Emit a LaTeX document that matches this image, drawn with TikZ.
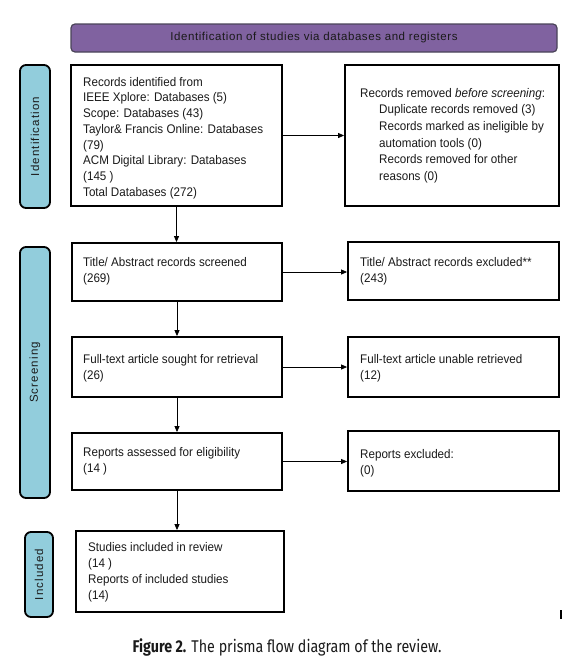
\documentclass[tikz,border=0pt]{standalone}
\usepackage{fontspec}
\setmainfont{Liberation Sans}[FakeStretch=0.93]
\newfontfamily\sidefont{Liberation Sans}[LetterSpace=10]
\newfontfamily\banfont{Liberation Sans}[LetterSpace=5]
\newfontfamily\capfont{Fira Sans}[FakeStretch=0.84]
\usetikzlibrary{arrows.meta,fit}
\definecolor{banfill}{HTML}{8062A0}
\definecolor{banline}{HTML}{4A4458}
\definecolor{sidefill}{HTML}{92CDDC}
\definecolor{txtcol}{HTML}{1A1A1A}
\begin{document}
\begin{tikzpicture}[x=1pt,y=-1pt,
  box/.style={draw=black, line width=1.8pt, inner sep=0pt, fill=white},
  side/.style={draw=black, line width=1.8pt, inner sep=0pt, fill=sidefill, rounded corners=6pt},
  banner/.style={draw=banline, line width=1.2pt, inner sep=0pt, fill=banfill, rounded corners=4pt},
  sidetxt/.style={rotate=90, font=\sidefont\fontsize{11.5}{13}\selectfont, text=txtcol, inner sep=0pt},
  txt/.style={anchor=north west, align=left, inner sep=0pt, text=txtcol, font=\fontsize{12.5}{16}\selectfont},
  arr/.style={-{Triangle[length=6pt,width=5pt]}, line width=0.8pt}]
\useasboundingbox (0,0) rectangle (571,664);

% banner
\node[banner, fit={(71,24) (557,52)}] (ban) {};
\node[font=\banfont\fontsize{11.5}{13}\selectfont, text=txtcol, inner sep=0pt] (bant) at (ban.center) {Identification of studies via databases and registers};

% side labels
\node[side, fit={(20,65) (50,208)}] (sid) {};
\node[sidetxt] (sidt) at (sid.center) {Identification};
\node[side, fit={(20,247) (50,498)}] (sscr) {};
\node[sidetxt] (sscrt) at (sscr.center) {Screening};
\node[side, fit={(25,532) (53,617)}] (sinc) {};
\node[sidetxt] (sinct) at (sinc.center) {Included};

% boxes
\node[box, fit={(71,65) (282,206)}] (b1) {};
\node[box, fit={(345,65) (559,206)}] (b2) {};
\node[box, fit={(72,243) (282,301)}] (b3) {};
\node[box, fit={(348,242) (559,300)}] (b4) {};
\node[box, fit={(72,337) (282,397)}] (b5) {};
\node[box, fit={(348,337) (559,397)}] (b6) {};
\node[box, fit={(72,433) (282,490)}] (b7) {};
\node[box, fit={(348,431) (559,491)}] (b8) {};
\node[box, fit={(76,531) (284,612)}] (b9) {};

% texts
\node[txt, font=\fontsize{12.5}{15.7}\selectfont] (t1) at (83,77) {Records identified from\\IEEE Xplore: Databases (5)\\Scope: Databases (43)\\Taylor\& Francis Online: Databases\\(79)\\ACM Digital Library: Databases\\(145 )\\Total Databases (272)};
\node[txt] (t2a) at (360,88) {Records removed \textit{before screening}:};
\node[txt, font=\fontsize{12.5}{16.6}\selectfont] (t2b) at (379,104.6) {Duplicate records removed (3)\\Records marked as ineligible by\\automation tools (0)\\Records removed for other\\reasons (0)};
\node[txt] (t3) at (83,257) {Title/ Abstract records screened\\(269)};
\node[txt] (t4) at (360,257) {Title/ Abstract records excluded**\\(243)};
\node[txt] (t5) at (83,354) {Full-text article sought for retrieval\\(26)};
\node[txt] (t6) at (360,354) {Full-text article unable retrieved\\(12)};
\node[txt] (t7) at (83,447) {Reports assessed for eligibility\\(14 )};
\node[txt] (t8) at (360,449) {Reports excluded:\\(0)};
\node[txt] (t9) at (88,542) {Studies included in review\\(14 )\\Reports of included studies\\(14)};

% arrows
\draw[arr] (b1.east) -- (b1.east -| b2.west);
\draw[arr] (b3.east) -- (b3.east -| b4.west);
\draw[arr] (b5.east) -- (b5.east -| b6.west);
\draw[arr] (b7.east) -- (b7.east -| b8.west);
\draw[arr] (b1.south) -- (b1.south |- b3.north);
\draw[arr] (b3.south) -- (b3.south |- b5.north);
\draw[arr] (b5.south) -- (b5.south |- b7.north);
\draw[arr] (b7.south) -- (b7.south |- b9.north);

% stray tick
\draw[line width=1.5pt] (561,610) -- (561,619);

% caption
\node[font=\capfont\fontsize{17}{19}\selectfont, text=txtcol, inner sep=0pt, anchor=base] (cap) at (287,652) {\textbf{Figure 2.} The prisma flow diagram of the review.};
\end{tikzpicture}
\end{document}
